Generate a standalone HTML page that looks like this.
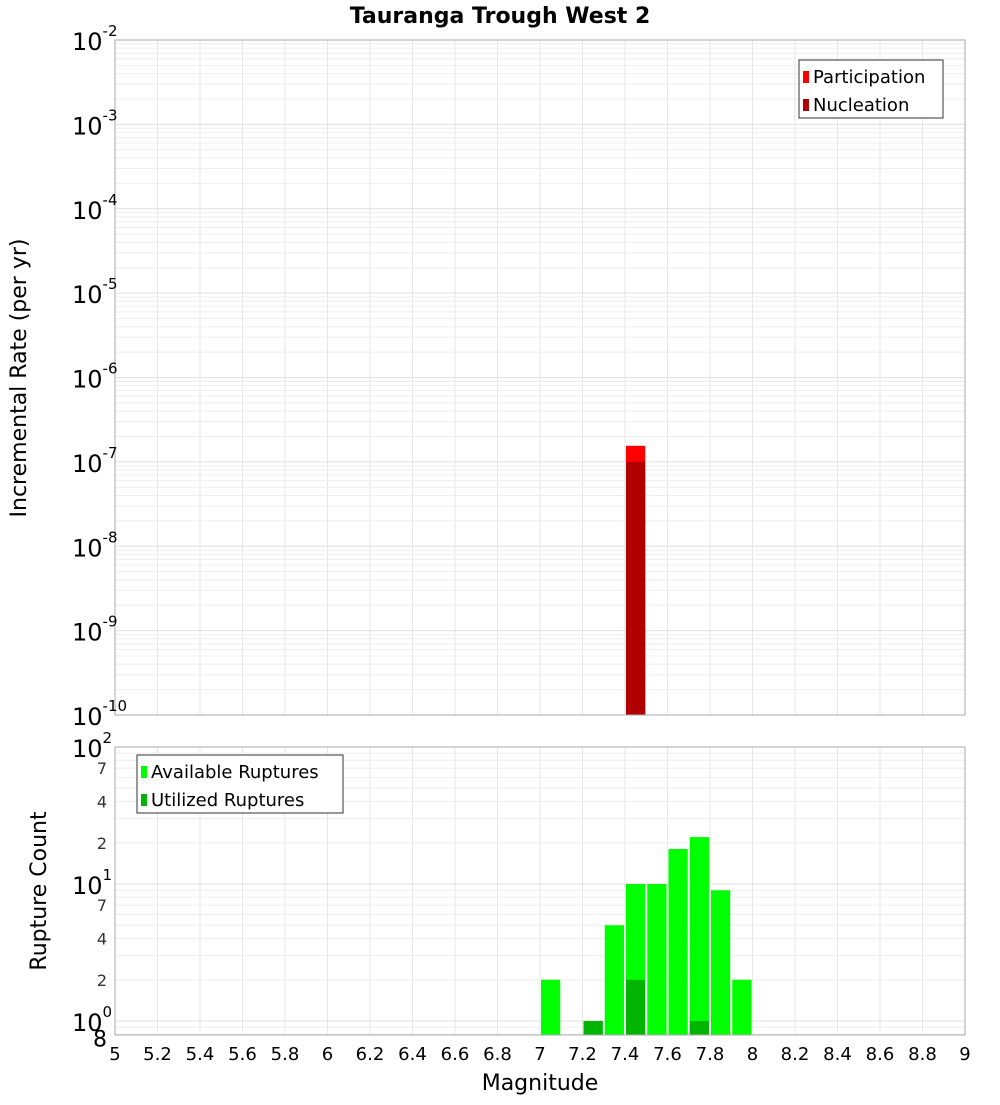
<!DOCTYPE html>
<html><head><meta charset="utf-8"><style>
body{margin:0;background:#fff;}
svg{font-family:"DejaVu Sans","Liberation Sans",sans-serif;}
</style></head><body>
<svg id="c" width="1000" height="1100" xmlns="http://www.w3.org/2000/svg"></svg>
<script>
const mags=[7.05,7.25,7.35,7.45,7.55,7.65,7.75,7.85,7.95];
const available=[2,1,5,10,10,18,22,9,2];
const utilizedMags=[7.25,7.45,7.75];
const utilized=[1,2,1];
const rateMags=[7.45];
const participation=[1.55e-7];
const nucleation=[1.0e-7];
const xTicks=[5,5.2,5.4,5.6,5.8,6,6.2,6.4,6.6,6.8,7,7.2,7.4,7.6,7.8,8,8.2,8.4,8.6,8.8,9];
const topExps=[-2,-3,-4,-5,-6,-7,-8,-9,-10];
const botMinorLabels=[2,4,7];

const svg=document.getElementById('c');
const NS='http://www.w3.org/2000/svg';
function mk(tag,attrs,parent){const e=document.createElementNS(NS,tag);for(const k in attrs)e.setAttribute(k,attrs[k]);(parent||svg).appendChild(e);return e;}
const L=115,R=965;
const x=m=>L+(m-5)/4*(R-L);
const T1=40,B1=715;
const y1=v=>T1+(-2-Math.log10(v))/8*(B1-T1);
const T2=747,B2=1035,D2=137;
const y2=v=>T2+(2-Math.log10(v))*D2;

// title
let t=mk('text',{x:500,y:23,'text-anchor':'middle','font-size':22,'font-weight':'bold'});t.textContent='Tauranga Trough West 2';


// grids
function grid(top,bot,yf,lo,hi,name){
  const g=mk('g',{});
  for(let m=5;m<=9.001;m+=0.2) mk('line',{x1:x(m),x2:x(m),y1:top,y2:bot,stroke:'#e6e6e6'},g);
  for(let e=lo;e<hi;e++) for(let k=1;k<10;k++){const yy=yf(k*Math.pow(10,e));if(yy>=top&&yy<=bot) mk('line',{x1:L,x2:R,y1:yy,y2:yy,stroke:k==1?'#e0e0e0':'#eeeeee'},g);}
}
grid(T1,B1,y1,-10,-1,'top-grid');
grid(T2,B2,y2,-1,2,'bottom-grid');

// top bars
rateMags.forEach((m,i)=>{
  let b=mk('rect',{x:x(m-0.05)+1,y:y1(participation[i]),width:x(m+0.05)-x(m-0.05)-2,height:B1-y1(participation[i]),fill:'#ff0000'});
  
  b=mk('rect',{x:x(m-0.05)+1,y:y1(nucleation[i]),width:x(m+0.05)-x(m-0.05)-2,height:B1-y1(nucleation[i]),fill:'#b00000'});
  
});
// bottom bars
mags.forEach((m,i)=>{
  const b=mk('rect',{x:x(m-0.05)+1,y:y2(available[i]),width:x(m+0.05)-x(m-0.05)-2,height:B2-y2(available[i]),fill:'#00ff00'});
  
});
utilizedMags.forEach((m,i)=>{
  const b=mk('rect',{x:x(m-0.05)+1,y:y2(utilized[i]),width:x(m+0.05)-x(m-0.05)-2,height:B2-y2(utilized[i]),fill:'#00b400'});
  
});

// frames
let f=mk('rect',{x:L,y:T1,width:R-L,height:B1-T1,fill:'none',stroke:'#aaa'});
f=mk('rect',{x:L,y:T2,width:R-L,height:B2-T2,fill:'none',stroke:'#aaa'});

// top y labels
topExps.forEach(e=>{
  const yy=y1(Math.pow(10,e));
  const tx=mk('text',{x:72,y:yy+10,'font-size':24});
  
  tx.innerHTML='10<tspan dy="-14" font-size="15">'+e+'</tspan>';
});
// bottom y labels
[2,1,0].forEach(e=>{
  const yy=y2(Math.pow(10,e));
  const tx=mk('text',{x:72,y:yy+10,'font-size':24});
  
  tx.innerHTML='10<tspan dy="-14" font-size="15">'+e+'</tspan>';
});
[0,1].forEach(e=>botMinorLabels.forEach(k=>{
  const tx=mk('text',{x:107,y:y2(k*Math.pow(10,e))+6,'font-size':16,'text-anchor':'end',fill:'#333'});
  tx.textContent=k;
}));
t=mk('text',{x:107,y:y2(0.8)+12,'font-size':22,'text-anchor':'end'});t.textContent='8';


// x ticks
xTicks.forEach(m=>{
  const tx=mk('text',{x:x(m),y:1060,'font-size':18,'text-anchor':'middle'});
  tx.textContent=String(m);
});
t=mk('text',{x:540,y:1090,'font-size':22,'text-anchor':'middle'});t.textContent='Magnitude';

t=mk('text',{x:0,y:0,'font-size':22,'text-anchor':'middle',transform:'translate(26,378) rotate(-90)'});t.textContent='Incremental Rate (per yr)';

t=mk('text',{x:0,y:0,'font-size':22,'text-anchor':'middle',transform:'translate(46,891) rotate(-90)'});t.textContent='Rupture Count';


// legends
function legend(x0,y0,w,items,name){
  const g=mk('g',{});
  mk('rect',{x:x0,y:y0,width:w,height:58,fill:'#fff',stroke:'#333'},g);
  items.forEach((it,i)=>{
    mk('rect',{x:x0+4,y:y0+11+i*28,width:6,height:12,fill:it[1]},g);
    const tx=mk('text',{x:x0+14,y:y0+23+i*28,'font-size':18},g);tx.textContent=it[0];
  });
}
legend(799,60,144,[['Participation','#ff0000'],['Nucleation','#b00000']],'top-legend');
legend(137,755,206,[['Available Ruptures','#00ff00'],['Utilized Ruptures','#00b400']],'bottom-legend');
</script>
</body></html>
